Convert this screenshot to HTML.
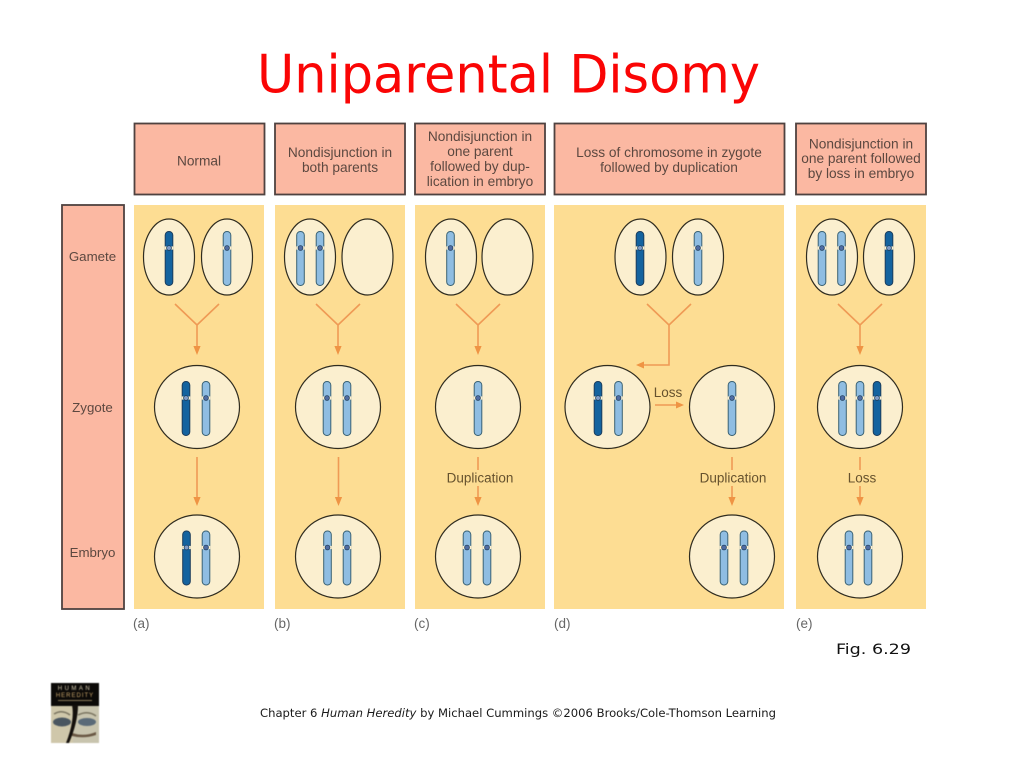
<!DOCTYPE html>
<html><head><meta charset="utf-8"><style>
html,body{margin:0;padding:0;background:#fff}
svg{display:block}
text{font-family:"Liberation Sans",sans-serif}
.l{font-size:13.7px;fill:#5c4840;text-anchor:middle}
.r{font-size:13.3px;fill:#5c4840;text-anchor:middle}
.s{font-size:13.5px;fill:#66522e;text-anchor:middle}
.f{font-size:13.5px;fill:#666}
.h{fill:#fbb8a2;stroke:#4f4240;stroke-width:1.8}
.p{fill:#fddd93}
.c{fill:#fbefcf;stroke:#2f2c20;stroke-width:1.2}
.a{fill:none;stroke:#ef9a55;stroke-width:1.6}
.t{fill:#ef9444}
.d{font-family:"DejaVu Sans",sans-serif}
</style></head><body>
<svg width="1024" height="768" viewBox="0 0 1024 768" xmlns="http://www.w3.org/2000/svg">
<defs>
<g id="dk"><rect x="-3.8" y="-16.500" width="7.6" height="54" rx="3.6" fill="#14639f" stroke="#1c3d5c" stroke-width="1"/><rect x="-4.3" y="-1.6" width="8.6" height="3.2" fill="#fbefcf"/><circle r="2.4" fill="#7f9cc8" stroke="#1c3d5c" stroke-width=".8"/></g>
<g id="lt"><rect x="-3.8" y="-16.500" width="7.6" height="54" rx="3.6" fill="#8fbde2" stroke="#3a6274" stroke-width="1"/><rect x="-4.3" y="-1.6" width="8.6" height="3.2" fill="#fbefcf"/><circle r="2.4" fill="#4f6ca4" stroke="#22405e" stroke-width=".8"/></g>
<path id="y" class="a" d="M-22 -21L0 0L22 -21M0 0V22"/>
<path id="h" class="t" d="M-3.6 -1H3.600L0 8Z"/>
</defs>
<rect width="1024" height="768" fill="#fff"/>
<text class="d" x="508.500" y="92.500" font-size="53" fill="#fa0505" textLength="503" lengthAdjust="spacingAndGlyphs" text-anchor="middle">Uniparental Disomy</text>

<g style="filter:blur(.35px)">
<rect class="h" x="134.500" y="123.500" width="130" height="71"/>
<rect class="h" x="275" y="123.500" width="130" height="71"/>
<rect class="h" x="415" y="123.500" width="130" height="71"/>
<rect class="h" x="554.500" y="123.500" width="230" height="71"/>
<rect class="h" x="796" y="123.500" width="130" height="71"/>
<rect class="h" x="62" y="205" width="62" height="404"/>

<rect class="p" x="134" y="205" width="130" height="404"/>
<rect class="p" x="275" y="205" width="130" height="404"/>
<rect class="p" x="415" y="205" width="130" height="404"/>
<rect class="p" x="554" y="205" width="230" height="404"/>
<rect class="p" x="796" y="205" width="130" height="404"/>

<text class="l" x="199" y="165.500">Normal</text>
<text class="l" x="340" y="157">Nondisjunction in</text>
<text class="l" x="340" y="172">both parents</text>
<text class="l" x="480" y="141">Nondisjunction in</text>
<text class="l" x="480" y="156">one parent</text>
<text class="l" x="480" y="171">followed by dup-</text>
<text class="l" x="480" y="186">lication in embryo</text>
<text class="l" x="669" y="157">Loss of chromosome in zygote</text>
<text class="l" x="669" y="172">followed by duplication</text>
<text class="l" x="861" y="148.500">Nondisjunction in</text>
<text class="l" x="861" y="163">one parent followed</text>
<text class="l" x="861" y="178">by loss in embryo</text>
<text class="r" x="92.500" y="261">Gamete</text>
<text class="r" x="92.500" y="412">Zygote</text>
<text class="r" x="92.500" y="557">Embryo</text>

<!-- gametes -->
<ellipse class="c" cx="169" cy="257" rx="25.500" ry="38"/><ellipse class="c" cx="227" cy="257" rx="25.500" ry="38"/>
<ellipse class="c" cx="310" cy="257" rx="25.500" ry="38"/><ellipse class="c" cx="367.500" cy="257" rx="25.500" ry="38"/>
<ellipse class="c" cx="451" cy="257" rx="25.500" ry="38"/><ellipse class="c" cx="507.500" cy="257" rx="25.500" ry="38"/>
<ellipse class="c" cx="640.500" cy="257" rx="25.500" ry="38"/><ellipse class="c" cx="698" cy="257" rx="25.500" ry="38"/>
<ellipse class="c" cx="832" cy="257" rx="25.500" ry="38"/><ellipse class="c" cx="889" cy="257" rx="25.500" ry="38"/>
<use href="#dk" x="169" y="248"/><use href="#lt" x="227" y="248"/>
<use href="#lt" x="300.500" y="248"/><use href="#lt" x="320" y="248"/>
<use href="#lt" x="450.500" y="248"/>
<use href="#dk" x="640" y="248"/><use href="#lt" x="698" y="248"/>
<use href="#lt" x="822" y="248"/><use href="#lt" x="841.500" y="248"/><use href="#dk" x="889" y="248"/>

<!-- Y arrows -->
<use href="#y" x="197" y="325"/><use href="#h" x="197" y="347"/>
<use href="#y" x="338" y="325"/><use href="#h" x="338" y="347"/>
<use href="#y" x="478" y="325"/><use href="#h" x="478" y="347"/>
<use href="#y" x="860" y="325"/><use href="#h" x="860" y="347"/>
<path class="a" d="M647 304L669 325L691 304M669 325V365H642"/>
<path class="t" d="M636 365L644 361.500V368.500Z"/>

<!-- zygotes -->
<ellipse class="c" cx="197" cy="407" rx="42.500" ry="41.500"/>
<ellipse class="c" cx="338" cy="407" rx="42.500" ry="41.500"/>
<ellipse class="c" cx="478" cy="407" rx="42.500" ry="41.500"/>
<ellipse class="c" cx="607.500" cy="407" rx="42.500" ry="41.500"/>
<ellipse class="c" cx="732" cy="407" rx="42.500" ry="41.500"/>
<ellipse class="c" cx="860" cy="407" rx="42.500" ry="41.500"/>
<use href="#dk" x="186" y="398"/><use href="#lt" x="206" y="398"/>
<use href="#lt" x="327" y="398"/><use href="#lt" x="347" y="398"/>
<use href="#lt" x="478" y="398"/>
<use href="#dk" x="598" y="398"/><use href="#lt" x="618.500" y="398"/>
<use href="#lt" x="732" y="398"/>
<use href="#lt" x="842.500" y="398"/><use href="#lt" x="860" y="398"/><use href="#dk" x="877" y="398"/>

<!-- lower arrows -->
<path class="a" d="M197 457V498"/><use href="#h" x="197" y="498"/>
<path class="a" d="M338.500 457V498"/><use href="#h" x="338.500" y="498"/>
<path class="a" d="M478 457V470M478 486V498"/><use href="#h" x="478" y="498"/>
<path class="a" d="M732 457V470M732 486V498"/><use href="#h" x="732" y="498"/>
<path class="a" d="M860 457V470M860 486V498"/><use href="#h" x="860" y="498"/>
<path class="a" d="M655 405H678"/><path class="t" d="M684 405L676 401.500V408.500Z"/>
<text class="s" x="668" y="397">Loss</text>
<text class="s" x="480" y="482.500">Duplication</text>
<text class="s" x="733" y="482.500">Duplication</text>
<text class="s" x="862" y="482.500">Loss</text>

<!-- embryos -->
<ellipse class="c" cx="197" cy="556.500" rx="42.500" ry="41.500"/>
<ellipse class="c" cx="338" cy="556.500" rx="42.500" ry="41.500"/>
<ellipse class="c" cx="478" cy="556.500" rx="42.500" ry="41.500"/>
<ellipse class="c" cx="732" cy="556.500" rx="42.500" ry="41.500"/>
<ellipse class="c" cx="860" cy="556.500" rx="42.500" ry="41.500"/>
<use href="#dk" x="186.500" y="547.500"/><use href="#lt" x="206" y="547.500"/>
<use href="#lt" x="327.500" y="547.500"/><use href="#lt" x="347" y="547.500"/>
<use href="#lt" x="467" y="547.500"/><use href="#lt" x="487" y="547.500"/>
<use href="#lt" x="724" y="547.500"/><use href="#lt" x="744" y="547.500"/>
<use href="#lt" x="849" y="547.500"/><use href="#lt" x="868" y="547.500"/>

<text class="f" x="133" y="628">(a)</text>
<text class="f" x="274" y="628">(b)</text>
<text class="f" x="414" y="628">(c)</text>
<text class="f" x="554" y="628">(d)</text>
<text class="f" x="796" y="628">(e)</text>
</g>

<text class="d" x="836" y="654" font-size="14.500" fill="#111" textLength="75" lengthAdjust="spacingAndGlyphs">Fig. 6.29</text>

<!-- book cover -->
<g style="filter:blur(.6px)">
<rect x="51" y="683" width="48" height="60" fill="#d8d2b8"/>
<rect x="51" y="683" width="48" height="23" fill="#0c0a08"/>
<text x="75" y="690" font-size="6" fill="#d6ccb0" text-anchor="middle" letter-spacing="2.500">HUMAN</text>
<text x="75" y="697" font-size="6" fill="#c9a56a" text-anchor="middle" letter-spacing="1">HEREDITY</text>
<rect x="58" y="700" width="34" height="1" fill="#8a7a58"/>
<rect x="51" y="706" width="22" height="37" fill="#cfc7aa"/>
<rect x="73" y="706" width="26" height="37" fill="#c8c4ae"/>
<ellipse cx="62" cy="722" rx="9" ry="4.500" fill="#4a5660"/>
<ellipse cx="87" cy="722" rx="9" ry="4" fill="#5a6a78"/>
<path d="M54 714Q62 709 70 715M78 715Q88 710 96 716" fill="none" stroke="#7a7460" stroke-width="1.5"/>
<path d="M72 733Q84 737 96 732L96 735Q84 739 72 736Z" fill="#6a5844"/>
<path d="M72 705Q75 720 66 743L69 743Q78 722 78 705Z" fill="#14100c"/>
</g>

<text class="d" x="260" y="717" font-size="11.500" fill="#1a1a1a" textLength="516" lengthAdjust="spacingAndGlyphs">Chapter 6 <tspan font-style="italic"> Human Heredity</tspan> by Michael Cummings ©2006 Brooks/Cole-Thomson Learning</text>
</svg>
</body></html>
